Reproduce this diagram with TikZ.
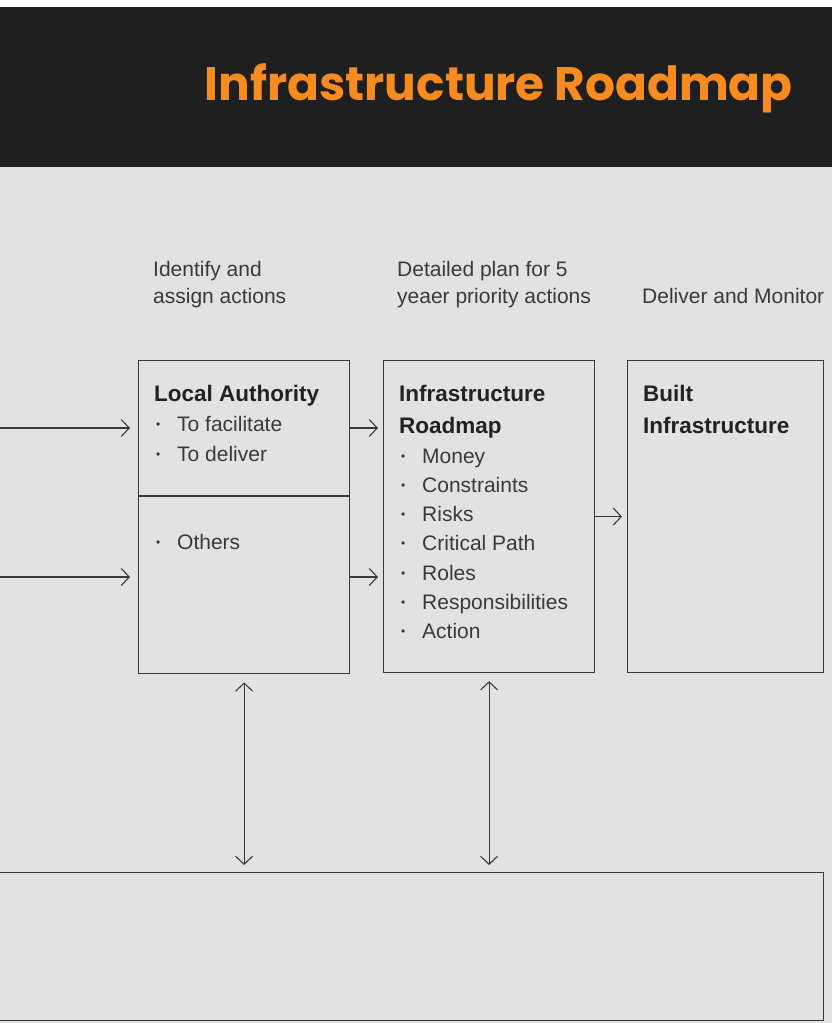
\documentclass[tikz,border=0pt]{standalone}
\usepackage{fontspec}
\setmainfont{Liberation Sans}
\newfontfamily\titlefont{Poppins}
\usetikzlibrary{arrows.meta, calc, positioning}
\definecolor{band}{HTML}{201F1F}
\definecolor{paper}{HTML}{E3E2E0}
\definecolor{orng}{HTML}{F68B1F}
\definecolor{ink}{HTML}{3A3A3A}
\definecolor{headink}{HTML}{222222}
\newcommand{\bul}{\makebox[23pt][l]{\hspace{2pt}\raisebox{3pt}{\fontsize{12}{12}\selectfont\textbullet}}}

\begin{document}
\begin{tikzpicture}[x=1pt, y=-1pt,
                    box/.style={draw=ink, line width=1.2pt, rectangle, inner sep=0pt},
                    arr/.style={draw=ink, line width=1.1pt, -{Straight Barb[length=8pt,width=17pt]}},
                    darr/.style={draw=ink, line width=1.1pt, {Straight Barb[length=8pt,width=17pt]}-{Straight Barb[length=8pt,width=17pt]}},
                    head/.style={anchor=base west, inner sep=0pt, text=headink, font=\fontsize{22.5}{32}\selectfont\bfseries},
                    item/.style={anchor=base west, inner sep=0pt, text=ink, font=\fontsize{21}{29}\selectfont},
                    note/.style={anchor=base west, inner sep=0pt, text=ink, align=left, font=\fontsize{21}{27}\selectfont}]
    \useasboundingbox (0,0) rectangle (832,1023);
    % page ground and title band
    \fill[white] (0,0) rectangle (832,7);
    \fill[band] (0,7) rectangle (832,167);
    \fill[paper] (0,167) rectangle (832,1023);
    \node[anchor=base east, inner sep=0pt, text=orng, font=\titlefont\fontsize{47}{47}\selectfont\bfseries] (title) at (793,100) {Infrastructure Roadmap};
    % stage notes (base = last line)
    \node[note] (identify) at (153,303) {Identify and\\assign actions};
    \node[note] (detailed) at (397,303) {Detailed plan for 5\\yeaer priority actions};
    \node[note] (deliver) at (642,303) {Deliver and Monitor};
    % boxes
    \node[box, anchor=north west, minimum width=211pt, minimum height=135pt] (latop) at (138,360) {};
    \node[box, anchor=north west, minimum width=211pt, minimum height=177pt] (labot) at (latop.south west) {};
    \node[box, right=32.8pt of latop.north east, anchor=north west, minimum width=211pt, minimum height=312pt] (rm) {};
    \node[box, right=31.8pt of rm.north east, anchor=north west, minimum width=196pt, minimum height=312pt] (built) {};
    \node[box, anchor=north west, minimum width=825pt, minimum height=148pt] (bottom) at (-2,872) {};
    % box texts
    \node[head] (lahead) at (154,401) {Local Authority};
    \node[item] (laitem1) at (154,431) {\bul To facilitate};
    \node[item] (laitem2) at (154,461) {\bul To deliver};
    \node[item] (laitem3) at (154,549) {\bul Others};
    \node[head] (rmhead1) at (399,401) {Infrastructure};
    \node[head] (rmhead2) at (399,433) {Roadmap};
    \foreach \txt [count=\i] in {Money, Constraints, Risks, Critical Path, Roles, Responsibilities, Action}
        \node[item] (rmitem\i) at (399,{463+29.33*(\i-1)}) {\bul\txt};
    \node[head] (bihead1) at (643,401) {Built};
    \node[head] (bihead2) at (643,433) {Infrastructure};
    % connectors
    \coordinate (in1) at (0,428);
    \coordinate (in2) at (0,577);
    \draw[arr] (in1) -- ([xshift=-8pt]in1 -| latop.west);
    \draw[arr] (in2) -- ([xshift=-8pt]in2 -| labot.west);
    \draw[arr] (in1 -| latop.east) -- ([xshift=-5pt]in1 -| rm.west);
    \draw[arr] (in2 -| labot.east) -- ([xshift=-5pt]in2 -| rm.west);
    \draw[arr] (rm.east) -- ([xshift=-5pt]built.west);
    \draw[darr] ([yshift=-8pt]labot.south) -- ([yshift=7pt]labot.south |- bottom.north);
    \draw[darr] ([yshift=-8pt]rm.south) -- ([yshift=7pt]rm.south |- bottom.north);
\end{tikzpicture}
\end{document}
